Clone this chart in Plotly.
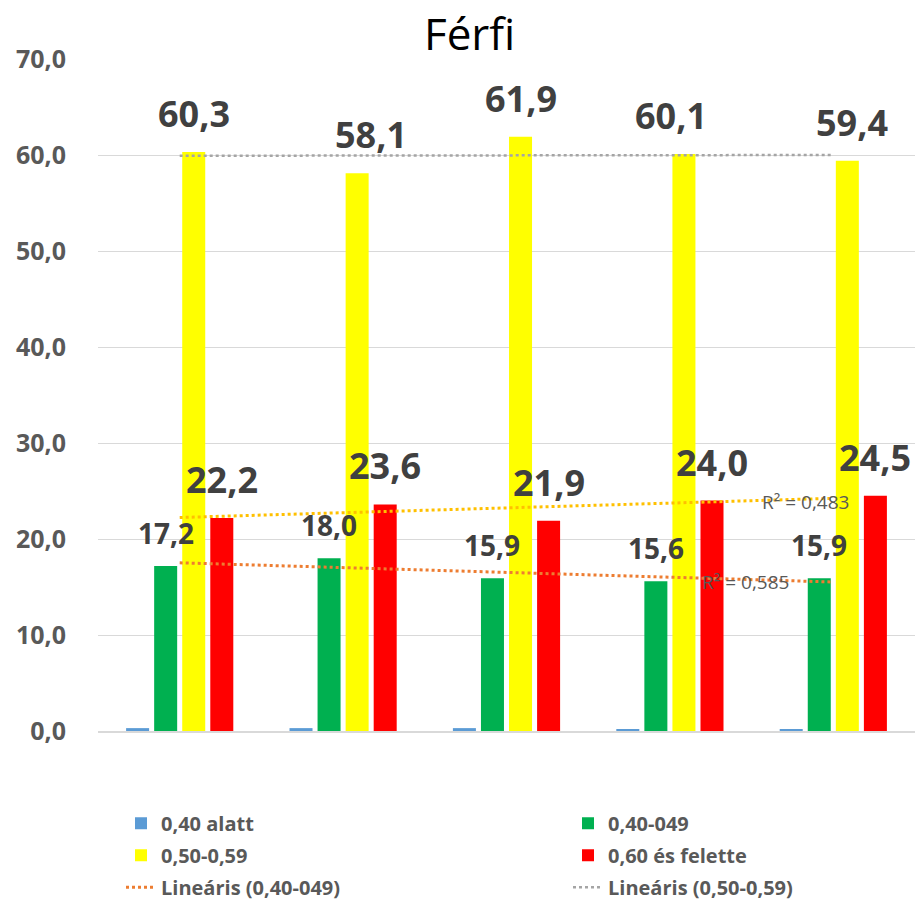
import numpy as np
import plotly.graph_objects as go

# ---- data ----
categories = ["1", "2", "3", "4", "5"]
series_names = ["0,40 alatt", "0,40-049", "0,50-0,59", "0,60 és felette"]
blue_vals = [0.3, 0.3, 0.3, 0.2, 0.2]
green_vals = [17.2, 18.0, 15.9, 15.6, 15.9]
yellow_vals = [60.3, 58.1, 61.9, 60.1, 59.4]
red_vals = [22.2, 23.6, 21.9, 24.0, 24.5]
y_ticks = [0, 10, 20, 30, 40, 50, 60, 70]
r2_texts = ["R² = 0,483", "R² = 0,585"]
title_text = "Férfi"

# ---- style ----
colors = ["#5B9BD5", "#00B050", "#FFFF00", "#FF0000"]
legend_ids = ["legend", "legend2", "legend", "legend2"]
FONT = "Open Sans"
LABEL_DARK = "#404040"
GREY_TXT = "#595959"
BARGAP = 0.313
BARGROUPGAP = 0.18
yellow_xshift = [0, 14, 0, -13, 5]
PLOT_L, PLOT_R, PLOT_T, PLOT_B = 98, 915, 59, 733

fig = go.Figure()
for j, (name, vals, col) in enumerate(zip(series_names, [blue_vals, green_vals, yellow_vals, red_vals], colors)):
    fig.add_trace(go.Bar(x=categories, y=vals, name=name, legend=legend_ids[j], legendgroup=f"g{j}",
                         marker=dict(color=col, line=dict(width=0))))

xi = np.arange(1, len(categories) + 1)

def trend(vals):
    k, b = np.polyfit(xi, vals, 1)
    return k * xi + b

g_fit = trend(green_vals)
y_fit = trend(yellow_vals)
r_fit = trend(red_vals)

fig.add_trace(go.Scatter(x=categories, y=g_fit, mode="lines", name="Lineáris (0,40-049)",
                         legend="legend", legendgroup="t1",
                         line=dict(color="#ED7D31", width=3, dash="dot")))
fig.add_trace(go.Scatter(x=categories, y=y_fit, mode="lines", name="Lineáris (0,50-0,59)",
                         legend="legend2", legendgroup="t2",
                         line=dict(color="#A5A5A5", width=2.5, dash="dot")))
fig.add_trace(go.Scatter(x=categories, y=r_fit, mode="lines", name="Lineáris (0,60 és felette)",
                         line=dict(color="#FFC000", width=3, dash="dot"), showlegend=False))

# data label annotations
slot = (1 - BARGAP) / 4
def center(i, k):
    return i - (1 - BARGAP) / 2 + (k + 0.5) * slot

def fmt(v):
    return f"{v:.1f}".replace(".", ",")

ann = []
for i, v in enumerate(green_vals):
    ann.append(dict(x=center(i, 1), y=v, xref="x", yref="y", text=fmt(v),
                    showarrow=False, yanchor="bottom", yshift=12,
                    font=dict(family=FONT, size=28, color=LABEL_DARK, weight="bold")))
for i, v in enumerate(yellow_vals):
    ann.append(dict(x=center(i, 2), y=v, xref="x", yref="y", text=fmt(v),
                    showarrow=False, yanchor="bottom", yshift=12, xshift=yellow_xshift[i],
                    font=dict(family=FONT, size=36, color=LABEL_DARK, weight="bold")))
for i, v in enumerate(red_vals):
    ann.append(dict(x=center(i, 3), y=v, xref="x", yref="y", text=fmt(v),
                    showarrow=False, yanchor="bottom", yshift=12,
                    font=dict(family=FONT, size=36, color=LABEL_DARK, weight="bold")))

ann.append(dict(x=3.83, y=23.9, xref="x", yref="y", text=r2_texts[0],
                showarrow=False, font=dict(family=FONT, size=19, color=GREY_TXT)))
ann.append(dict(x=3.46, y=15.5, xref="x", yref="y", text=r2_texts[1],
                showarrow=False, font=dict(family=FONT, size=19, color=GREY_TXT)))

pw = PLOT_R - PLOT_L
ph = PLOT_B - PLOT_T
legend_font = dict(family=FONT, size=20, color=GREY_TXT, weight="bold")
leg_y = -(806 - PLOT_B) / ph
fig.update_layout(
    width=919, height=911, autosize=False,
    margin=dict(l=PLOT_L, r=919 - PLOT_R, t=PLOT_T, b=911 - PLOT_B),
    paper_bgcolor="white", plot_bgcolor="white",
    separators=",.",
    barmode="group", bargap=BARGAP, bargroupgap=BARGROUPGAP,
    title=dict(text=title_text, x=0.511, xref="container", y=1 - 35 / 911, yref="container",
               xanchor="center", yanchor="middle",
               font=dict(family=FONT, size=44, color="black")),
    xaxis=dict(showticklabels=False, showgrid=False, showline=True, linecolor="#D9D9D9",
               linewidth=1.5, ticks="", zeroline=False),
    yaxis=dict(range=[0, 70], tickvals=y_ticks, tickformat=".1f", showgrid=True, gridcolor="#D9D9D9",
               gridwidth=1.2, zeroline=False, showline=False, ticks="", ticklabelstandoff=31,
               automargin=False,
               tickfont=dict(family=FONT, size=25, color=GREY_TXT, weight="bold")),
    legend=dict(orientation="v", x=(121 - PLOT_L) / pw, xanchor="left",
                y=leg_y, yanchor="top",
                tracegroupgap=3, font=legend_font, bgcolor="rgba(0,0,0,0)"),
    legend2=dict(orientation="v", x=(568 - PLOT_L) / pw, xanchor="left",
                 y=leg_y, yanchor="top",
                 tracegroupgap=3, font=legend_font, bgcolor="rgba(0,0,0,0)"),
    annotations=ann,
    showlegend=True,
)

fig.write_html("out.html", config={"displayModeBar": False},
               post_script="document.body.style.margin='0px';")
